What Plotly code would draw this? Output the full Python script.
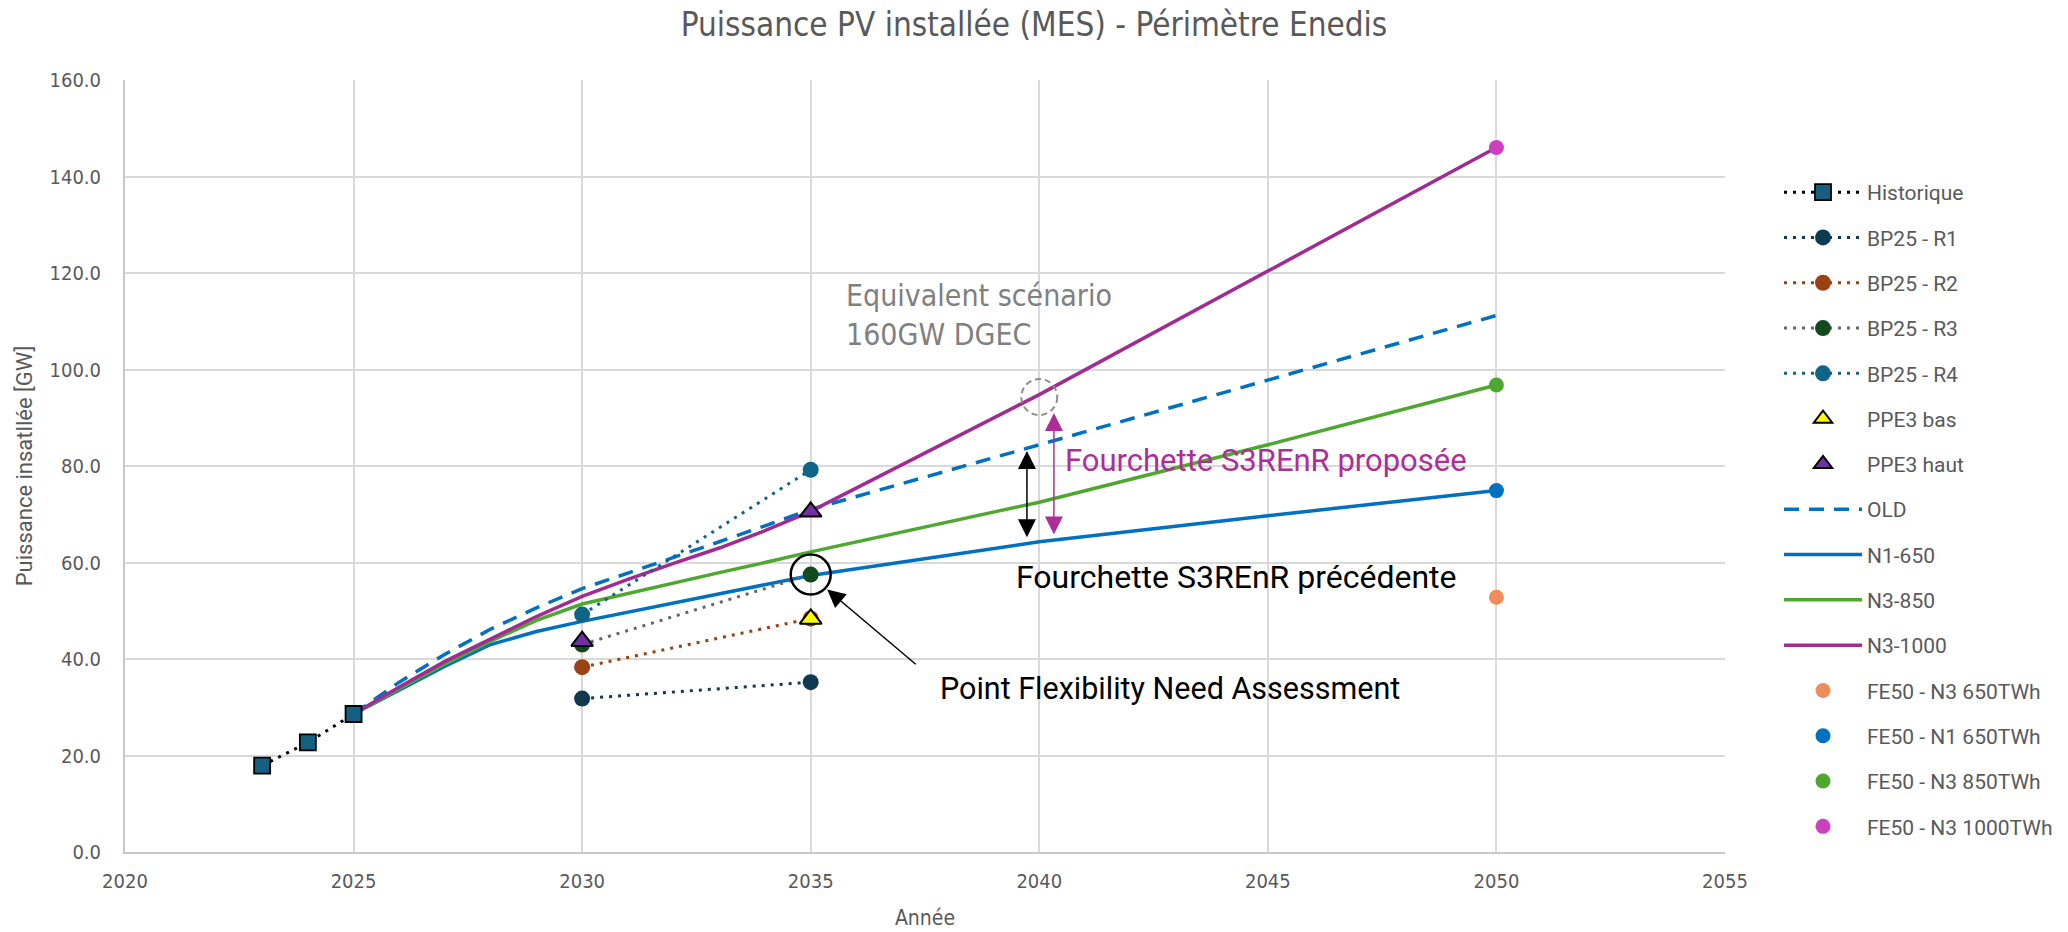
import plotly.graph_objects as go

# ---------------- data ----------------
years_hist = [2023, 2024, 2025]
historique = [17.9, 22.7, 28.6]

years_bp = [2030, 2035]
bp25_r1 = [31.8, 35.2]
bp25_r2 = [38.3, 48.4]
bp25_r3 = [43.0, 57.5]
bp25_r4 = [49.2, 79.2]

years_ppe3_bas = [2035]
ppe3_bas = [48.3]
years_ppe3_haut = [2030, 2035]
ppe3_haut = [43.7, 70.5]

years_traj = [2025, 2026, 2027, 2028, 2029, 2030, 2031, 2032, 2033, 2034, 2035, 2040, 2045, 2050]
old = [28.6, 35.2, 41.0, 46.2, 50.6, 54.6, 57.8, 61.0, 64.3, 67.6, 71.0, 84.4, 97.8, 111.2]
n1_650 = [28.6, 33.6, 38.5, 43.0, 45.7, 47.8, 49.7, 51.6, 53.5, 55.4, 57.3, 64.3, 69.7, 74.9]
n3_850 = [28.6, 33.8, 39.0, 43.7, 48.0, 51.4, 53.6, 55.7, 57.9, 60.0, 62.2, 72.5, 84.4, 96.8]
n3_1000 = [28.6, 34.2, 39.5, 44.2, 48.8, 53.0, 56.5, 59.8, 63.0, 66.6, 70.6, 94.8, 120.3, 146.0]

years_fe50 = [2050]
fe50_n3_650 = [52.8]
fe50_n1_650 = [74.9]
fe50_n3_850 = [96.8]
fe50_n3_1000 = [146.0]

x_ticks = [2020, 2025, 2030, 2035, 2040, 2045, 2050, 2055]
y_ticks = [0, 20, 40, 60, 80, 100, 120, 140, 160]

# ---------------- style ----------------
NARROW = "Liberation Sans Narrow, Arial Narrow, DejaVu Sans Condensed, Roboto Condensed, sans-serif"
REG = "Roboto, Open Sans, Arial, sans-serif"
GREY_TXT = "#595959"
DOT = "3px,6px"

fig = go.Figure()

def add(name, x, y, rank, mode, line=None, marker=None):
    fig.add_trace(go.Scatter(
        x=x, y=y, name=name, mode=mode, line=line, marker=marker,
        legendrank=rank, legendgroup=name, hoverinfo="x+y+name"))

# trajectories (drawn first)
add("OLD", years_traj, old, 8, "lines", line=dict(color="#0070C0", width=3.5, dash="15px,10px"))
add("N1-650", years_traj, n1_650, 9, "lines", line=dict(color="#0070C0", width=3.5))
add("N3-850", years_traj, n3_850, 10, "lines", line=dict(color="#4EA72E", width=3.5))
add("N3-1000", years_traj, n3_1000, 11, "lines", line=dict(color="#A02B93", width=3.5))

# historic + BP25
add("Historique", years_hist, historique, 1, "lines+markers",
    line=dict(color="#000000", width=3, dash=DOT),
    marker=dict(symbol="square", size=16, color="#156082", line=dict(color="#000000", width=1.8)))
add("BP25 - R1", years_bp, bp25_r1, 2, "lines+markers",
    line=dict(color="#0E3A52", width=3, dash=DOT), marker=dict(size=16, color="#0E3A52"))
add("BP25 - R2", years_bp, bp25_r2, 3, "lines+markers",
    line=dict(color="#9B4215", width=3, dash=DOT), marker=dict(size=16, color="#9B4215"))
add("BP25 - R3", years_bp, bp25_r3, 4, "lines+markers",
    line=dict(color="#666666", width=3, dash=DOT), marker=dict(size=16, color="#124A1E"))
add("BP25 - R4", years_bp, bp25_r4, 5, "lines+markers",
    line=dict(color="#0F6585", width=3, dash=DOT), marker=dict(size=16, color="#0F6585"))
add("PPE3 bas", years_ppe3_bas, ppe3_bas, 6, "markers",
    marker=dict(symbol="triangle-up", size=19, color="#FFFF00", line=dict(color="#000000", width=2)))
add("PPE3 haut", years_ppe3_haut, ppe3_haut, 7, "markers",
    marker=dict(symbol="triangle-up", size=19, color="#7030A0", line=dict(color="#000000", width=2)))

# FE50 points
add("FE50 - N3 650TWh", years_fe50, fe50_n3_650, 12, "markers", marker=dict(size=15, color="#EE8C5C"))
add("FE50 - N1 650TWh", years_fe50, fe50_n1_650, 13, "markers", marker=dict(size=15, color="#0070C0"))
add("FE50 - N3 850TWh", years_fe50, fe50_n3_850, 14, "markers", marker=dict(size=15, color="#4EA72E"))
add("FE50 - N3 1000TWh", years_fe50, fe50_n3_1000, 15, "markers", marker=dict(size=15, color="#CC40C0"))

# ---------------- annotations ----------------
ann = []
ann.append(dict(x=2035.73, y=111.2, xref="x", yref="y", xanchor="left", yanchor="middle", align="left",
                text="Equivalent scénario<br>160GW DGEC", showarrow=False,
                font=dict(family=NARROW, size=30, color="#808080")))
ann.append(dict(x=2040.52, y=81.1, xref="x", yref="y", xanchor="left", yanchor="middle",
                text="Fourchette S3REnR proposée", showarrow=False,
                font=dict(family=REG, size=31, color="#AE2E99")))
ann.append(dict(x=2039.45, y=57.0, xref="x", yref="y", xanchor="left", yanchor="middle",
                text="Fourchette S3REnR précédente", showarrow=False,
                font=dict(family=REG, size=32, color="#000000")))
ann.append(dict(x=2037.78, y=33.9, xref="x", yref="y", xanchor="left", yanchor="middle",
                text="Point Flexibility Need Assessment", showarrow=False,
                font=dict(family=REG, size=30.5, color="#000000")))
# arrows
ann.append(dict(x=2035.36, y=54.4, ax=2037.33, ay=38.65, xref="x", yref="y", axref="x", ayref="y",
                text="", showarrow=True, arrowhead=2, arrowsize=2.4, arrowwidth=1.5, arrowcolor="#000000"))
ann.append(dict(x=2039.73, y=83.1, ax=2039.73, ay=64.9, xref="x", yref="y", axref="x", ayref="y",
                text="", showarrow=True, arrowhead=2, startarrowhead=2, arrowside="end+start",
                arrowsize=2.4, startarrowsize=2.4, arrowwidth=1.5, arrowcolor="#000000"))
ann.append(dict(x=2040.32, y=91.0, ax=2040.32, ay=65.5, xref="x", yref="y", axref="x", ayref="y",
                text="", showarrow=True, arrowhead=2, startarrowhead=2, arrowside="end+start",
                arrowsize=2.4, startarrowsize=2.4, arrowwidth=1.5, arrowcolor="#AE2E99"))

shapes = [
    dict(type="circle", xref="x", yref="y", xsizemode="pixel", ysizemode="pixel",
         xanchor=2035, yanchor=57.5, x0=-20, x1=20, y0=-20, y1=20,
         line=dict(color="#000000", width=2.5)),
    dict(type="circle", xref="x", yref="y", xsizemode="pixel", ysizemode="pixel",
         xanchor=2040, yanchor=94.3, x0=-18, x1=18, y0=-18, y1=18,
         line=dict(color="#8C8C8C", width=2, dash="6px,4px")),
]

fig.update_layout(
    width=2068, height=932,
    margin=dict(l=125, r=343, t=80, b=80, autoexpand=False),
    paper_bgcolor="white", plot_bgcolor="white",
    title=dict(text="Puissance PV installée (MES) - Périmètre Enedis", x=0.5, xref="container",
               y=0.974, yanchor="middle", xanchor="center",
               font=dict(family=NARROW, size=33, color=GREY_TXT)),
    legend=dict(x=(1779 - 125) / 1600, xanchor="left",
                y=(852 - 172) / 772, yanchor="top",
                font=dict(family=REG, size=21, color=GREY_TXT),
                tracegroupgap=15, itemwidth=78, bgcolor="rgba(0,0,0,0)"),
    annotations=ann, shapes=shapes,
    showlegend=True,
)
fig.update_xaxes(range=[2020, 2055], tickvals=x_ticks, showgrid=True, gridcolor="#D9D9D9", gridwidth=1.5,
                 showline=True, linecolor="#C8C8C8", linewidth=2, zeroline=False, ticks="",
                 ticklabelstandoff=10, automargin=False,
                 tickfont=dict(family=NARROW, size=20, color=GREY_TXT),
                 title=dict(text="Année", standoff=18, font=dict(family=NARROW, size=21, color=GREY_TXT)))
fig.update_yaxes(range=[0, 160], tickvals=y_ticks, tickformat=".1f", showgrid=True, gridcolor="#D9D9D9",
                 gridwidth=1.5, showline=True, linecolor="#C8C8C8", linewidth=2, zeroline=False, ticks="",
                 ticklabelstandoff=18, automargin=False,
                 tickfont=dict(family=NARROW, size=20, color=GREY_TXT),
                 title=dict(text="Puissance insatllée [GW]", standoff=11,
                            font=dict(family=REG, size=22, color=GREY_TXT)))

fig.write_html("out.html", config={"displayModeBar": False},
               post_script="document.body.style.margin='0px';")
